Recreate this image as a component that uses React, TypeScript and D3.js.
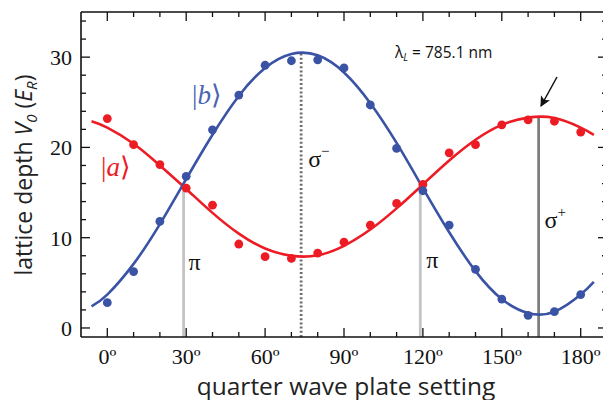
import React from 'react';
import * as d3 from 'd3';

const W = 603;
const H = 400;
const PLOT = { left: 81, right: 607, top: 12, bottom: 337 };

// measured lattice depths, one point per 10 degrees
const angles = [0, 10, 20, 30, 40, 50, 60, 70, 80, 90, 100, 110, 120, 130, 140, 150, 160, 170, 180];
const aDepth = [23.2, 20.3, 18.1, 15.5, 13.6, 9.3, 7.9, 7.7, 8.3, 9.5, 11.4, 13.8, 15.9, 19.4, 20.3, 22.5, 23.05, 22.9, 21.7];
const bDepth = [2.8, 6.25, 11.8, 16.8, 21.95, 25.8, 29.1, 29.6, 29.7, 28.8, 24.7, 19.9, 15.2, 11.4, 6.5, 3.2, 1.4, 1.8, 3.7];

// fitted curves
const fitAngles = [-6, 0, 10, 20, 30, 40, 50, 60, 70, 80, 90, 100, 110, 120, 130, 140, 150, 160, 170, 180, 185];
const aFit = [22.9, 22.2, 20.4, 18.0, 15.4, 12.75, 10.45, 8.8, 8.0, 8.05, 9.1, 10.9, 13.25, 15.9, 18.55, 20.85, 22.5, 23.3, 23.25, 22.2, 21.4];
const bFit = [2.4, 3.7, 7.1, 11.5, 16.5, 21.4, 25.7, 28.8, 30.35, 30.2, 28.3, 24.9, 20.5, 15.5, 10.6, 6.3, 3.2, 1.65, 1.8, 3.7, 5.1];

// polarisation markers: angle and top of the vertical line
const markerAngles = [29, 73.7, 119, 164];
const markerTops = [15.9, 30.5, 15.8, 23.4];

const xMajor = [0, 30, 60, 90, 120, 150, 180];
const xMinor = d3.range(0, 191, 10);
const yMajor = [0, 10, 20, 30];
const yMinor = d3.range(0, 35, 2);

const RED = '#ed1c24';
const BLUE = '#3a53a4';
const SERIF = '"Liberation Serif", "Times New Roman", serif';
const SANS = '"Open Sans", "Liberation Sans", sans-serif';

export default function App() {
  const x = d3.scaleLinear().domain([-10, 190]).range([PLOT.left, PLOT.right]);
  const y = d3.scaleLinear().domain([-1, 35]).range([PLOT.bottom, PLOT.top]);

  const line = d3.line<[number, number]>()
    .x(d => x(d[0]))
    .y(d => y(d[1]))
    .curve(d3.curveNatural);

  const aPath = line(fitAngles.map((t, i) => [t, aFit[i]])) || '';
  const bPath = line(fitAngles.map((t, i) => [t, bFit[i]])) || '';

  const markerStyle = [
    { stroke: '#c4c4c4', dash: undefined },
    { stroke: '#6d6d6d', dash: '2,2.2' },
    { stroke: '#c4c4c4', dash: undefined },
    { stroke: '#7f7f7f', dash: undefined },
  ];

  return (
    <svg width={W} height={H} style={{ position: 'absolute', left: 0, top: 0, background: '#fff' }}>
      <defs>
        <clipPath id="plot-clip">
          <rect x={PLOT.left} y={PLOT.top} width={PLOT.right - PLOT.left} height={PLOT.bottom - PLOT.top} />
        </clipPath>
        <marker id="arrowhead" viewBox="0 0 10 10" refX="9" refY="5" markerWidth="7" markerHeight="7" orient="auto">
          <path d="M0,0 L10,5 L0,10 L2.5,5 Z" fill="#111" />
        </marker>
      </defs>

      {/* vertical marker lines */}
      {markerAngles.map((a, i) => (
        <line key={'m' + i}
          x1={x(a)} x2={x(a)} y1={PLOT.bottom} y2={y(markerTops[i])}
          stroke={markerStyle[i].stroke} strokeWidth={2.8}
          strokeDasharray={markerStyle[i].dash} />
      ))}

      {/* fits */}
      <g clipPath="url(#plot-clip)">
        <path d={aPath} fill="none" stroke={RED} strokeWidth={2.6} />
        <path d={bPath} fill="none" stroke={BLUE} strokeWidth={2.6} />
      </g>

      {/* data */}
      {angles.map((a, i) => (
        <circle key={'a' + i} cx={x(a)} cy={y(aDepth[i])} r={4.4} fill={RED} />
      ))}
      {angles.map((a, i) => (
        <circle key={'b' + i} cx={x(a)} cy={y(bDepth[i])} r={4.4} fill={BLUE} />
      ))}

      {/* frame */}
      <g stroke="#111" strokeWidth={1.6} fill="none">
        <line x1={PLOT.left} x2={PLOT.right} y1={PLOT.top} y2={PLOT.top} />
        <line x1={PLOT.left} x2={PLOT.right} y1={PLOT.bottom} y2={PLOT.bottom} />
        <line x1={PLOT.left} x2={PLOT.left} y1={PLOT.top} y2={PLOT.bottom} />
        <line x1={PLOT.right} x2={PLOT.right} y1={PLOT.top} y2={PLOT.bottom} />
      </g>
      <g stroke="#111" strokeWidth={1.3}>
        {xMinor.map(t => {
          const len = xMajor.includes(t) ? 9 : 5;
          return (
            <g key={'xt' + t}>
              <line x1={x(t)} x2={x(t)} y1={PLOT.bottom} y2={PLOT.bottom - len} />
              <line x1={x(t)} x2={x(t)} y1={PLOT.top} y2={PLOT.top + len} />
            </g>
          );
        })}
        {yMinor.map(t => {
          const len = yMajor.includes(t) ? 9 : 5;
          return (
            <g key={'yt' + t}>
              <line x1={PLOT.left} x2={PLOT.left + len} y1={y(t)} y2={y(t)} />
              <line x1={PLOT.right} x2={PLOT.right - len} y1={y(t)} y2={y(t)} />
            </g>
          );
        })}
      </g>

      {/* tick labels */}
      <g fontFamily={SERIF} fontSize={22} fill="#111">
        {xMajor.map(t => (
          <text key={'xl' + t} x={x(t)} y={364} textAnchor="middle">{`${t}º`}</text>
        ))}
        {yMajor.map(t => (
          <text key={'yl' + t} x={72} y={y(t) + 8} textAnchor="end">{String(t)}</text>
        ))}
      </g>

      {/* axis titles */}
      <text x={346} y={394.5} textAnchor="middle" fontFamily={SANS} fontSize={24.5} fill="#222">
        quarter wave plate setting
      </text>
      <text transform="translate(32,175) rotate(-90)" textAnchor="middle" fontFamily={SANS} fontSize={23} fill="#222">
        lattice depth <tspan fontStyle="italic">V</tspan>
        <tspan fontStyle="italic" fontSize={15} dy={5}>0</tspan>
        <tspan dy={-5}> (</tspan>
        <tspan fontStyle="italic">E</tspan>
        <tspan fontStyle="italic" fontSize={15} dy={5}>R</tspan>
        <tspan dy={-5}>)</tspan>
      </text>

      {/* state labels */}
      <text x={207} y={104} textAnchor="middle" fontFamily={SERIF} fontSize={27} fill="#4a63b3">
        |<tspan fontStyle="italic">b</tspan>⟩
      </text>
      <text x={116} y={176} textAnchor="middle" fontFamily={SERIF} fontSize={27} fill={RED}>
        |<tspan fontStyle="italic">a</tspan>⟩
      </text>

      {/* polarisation labels */}
      <g fontFamily={SERIF} fontSize={24} fill="#111">
        <text x={x(29) + 5} y={270}>π</text>
        <text x={x(119) + 6} y={268}>π</text>
        <text x={x(73.7) + 7} y={167}>σ<tspan fontSize={15} dy={-11}>−</tspan></text>
        <text x={x(164) + 6} y={228}>σ<tspan fontSize={15} dy={-11}>+</tspan></text>
      </g>

      {/* wavelength note */}
      <text x={395} y={58} fontFamily={SANS} fontSize={15.5} fill="#111">
        λ<tspan fontStyle="italic" fontSize={10} dy={3}>L</tspan><tspan dy={-3}> = 785.1 nm</tspan>
      </text>

      {/* arrow to the σ+ setting */}
      <line x1={557} y1={77} x2={541} y2={106} stroke="#111" strokeWidth={1.5} markerEnd="url(#arrowhead)" />
    </svg>
  );
}
